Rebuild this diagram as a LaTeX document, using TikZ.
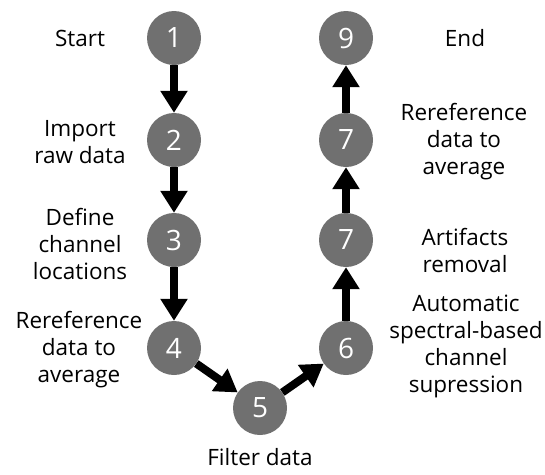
\documentclass[tikz,border=0pt]{standalone}
\usepackage{fontspec}
\setmainfont{Open Sans}
\usetikzlibrary{arrows.meta,positioning}
\definecolor{stepgray}{RGB}{112,112,112}
\tikzset{
  stepnum/.style={circle, fill=stepgray, minimum size=54pt, inner sep=0pt,
    text=white, font=\fontsize{28}{28}\selectfont},
  steplbl/.style={align=center, font=\fontsize{22.5}{27}\selectfont},
  flow/.style={line width=8pt, -{Triangle[width=26pt,length=22pt]}},
}
\begin{document}
\begin{tikzpicture}[x=1pt,y=-1pt]
    \useasboundingbox (0,0) rectangle (545,474);
    % Steps
    \node [stepnum] (s1) at (174,38) {1};
    \node [stepnum] (s2) at (174,140) {2};
    \node [stepnum] (s3) at (174,240) {3};
    \node [stepnum] (s4) at (174,348) {4};
    \node [stepnum] (s5) at (260,408) {5};
    \node [stepnum] (s6) at (346,348) {6};
    \node [stepnum] (s7b) at (346,240) {7};
    \node [stepnum] (s7a) at (346,140) {7};
    \node [stepnum] (s9) at (346,38) {9};
    % Labels
    \node [steplbl] (l1) at (80,38) {Start};
    \node [steplbl] (l2) at (80,142) {Import\\raw data};
    \node [steplbl] (l3) at (80,244) {Define\\channel\\locations};
    \node [steplbl] (l4) at (79,350) {Rereference\\data to\\average};
    \node [steplbl] (l5) at (260,457) {Filter data};
    \node [steplbl] (l6) at (466,346) {Automatic\\spectral-based\\channel\\supression};
    \node [steplbl] (l7b) at (465,250) {Artifacts\\removal};
    \node [steplbl] (l7a) at (464,142) {Rereference\\data to\\average};
    \node [steplbl] (l9) at (465,38) {End};
    % Arrows
    \draw [flow] (s1) -- (s2);
    \draw [flow] (s2) -- (s3);
    \draw [flow] (s3) -- (s4);
    \draw [flow] (s4) -- (s5);
    \draw [flow] (s5) -- (s6);
    \draw [flow] (s6) -- (s7b);
    \draw [flow] (s7b) -- (s7a);
    \draw [flow] (s7a) -- (s9);
\end{tikzpicture}
\end{document}
